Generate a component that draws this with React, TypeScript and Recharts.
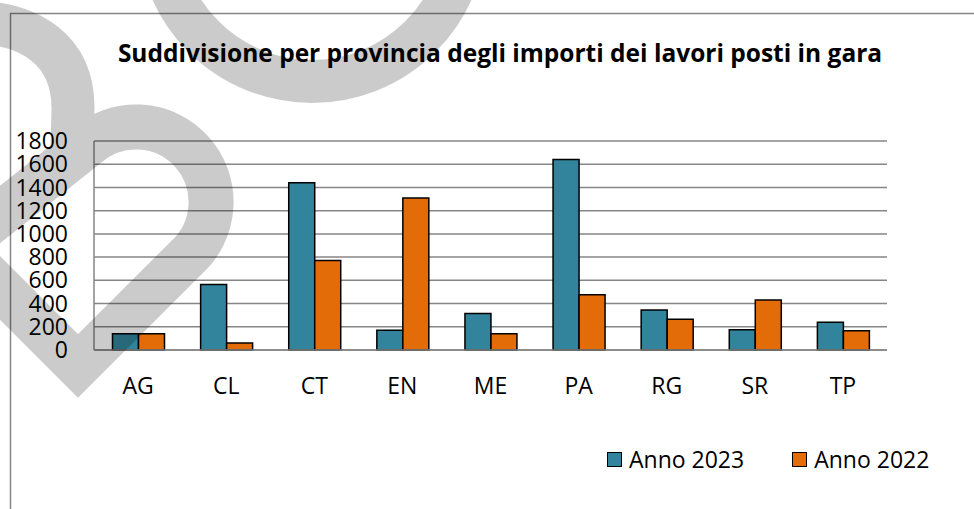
import React from 'react';
import { BarChart, Bar, XAxis, YAxis, CartesianGrid } from 'recharts';

const categories = ['AG', 'CL', 'CT', 'EN', 'ME', 'PA', 'RG', 'SR', 'TP'];
const anno2023 = [140, 565, 1440, 170, 315, 1640, 345, 175, 240];
const anno2022 = [140, 60, 770, 1310, 140, 475, 265, 430, 165];
const yTicks = [0, 200, 400, 600, 800, 1000, 1200, 1400, 1600, 1800];
const title = 'Suddivisione per provincia degli importi dei lavori posti in gara';

const series = [
  { key: 'a2023', name: 'Anno 2023', color: '#31849B', values: anno2023 },
  { key: 'a2022', name: 'Anno 2022', color: '#E36C09', values: anno2022 },
];

const data = categories.map((c, i) => {
  const row: Record<string, string | number> = { cat: c };
  series.forEach((s) => {
    row[s.key] = s.values[i];
  });
  return row;
});

const FONT = "'Open Sans', 'Noto Sans', sans-serif";
const GRID = '#868686';

export default function App() {
  return (
    <div style={{ position: 'absolute', left: 0, top: 0, width: 974, height: 509, background: '#fff', overflow: 'hidden' }}>
      <svg width={974} height={509} style={{ position: 'absolute', left: 0, top: 0 }}>
        <rect x={10.5} y={13.5} width={1000} height={600} fill="none" stroke={GRID} strokeWidth={1.5} />
        <text x={500} y={62} textAnchor="middle" fontFamily={FONT} fontWeight="bold" fontSize={24.5} fill="#000">
          {title}
        </text>
      </svg>
      <div style={{ position: 'absolute', left: 0, top: 0 }}>
        <BarChart
          width={974}
          height={509}
          data={data}
          margin={{ top: 141, right: 87, bottom: 129, left: 0 }}
          barCategoryGap="21%"
          barGap={0}
        >
          <CartesianGrid vertical={false} stroke={GRID} strokeWidth={1.5} />
          <XAxis
            dataKey="cat"
            height={30}
            axisLine={{ stroke: GRID, strokeWidth: 1.5 }}
            tickLine={false}
            tickSize={0}
            tickMargin={28}
            interval={0}
            tick={{ fill: '#000', fontSize: 23, fontFamily: FONT }}
          />
          <YAxis
            width={94}
            domain={[0, 1800]}
            ticks={yTicks}
            interval={0}
            axisLine={{ stroke: GRID, strokeWidth: 1.5 }}
            tickLine={false}
            tickSize={0}
            tickMargin={26}
            tick={{ fill: '#000', fontSize: 23, fontFamily: FONT }}
          />
          {series.map((s) => (
            <Bar
              key={s.key}
              dataKey={s.key}
              name={s.name}
              fill={s.color}
              stroke="#000"
              strokeWidth={1.5}
              isAnimationActive={false}
            />
          ))}
        </BarChart>
      </div>
      <div
        style={{
          position: 'absolute',
          left: 607,
          top: 445,
          height: 28,
          display: 'flex',
          alignItems: 'center',
          fontFamily: FONT,
          fontSize: 23,
          color: '#000',
          whiteSpace: 'nowrap',
        }}
      >
        {series.map((s, i) => (
          <div key={s.key} style={{ display: 'flex', alignItems: 'center', marginRight: i === 0 ? 48 : 0 }}>
            <span
              style={{
                display: 'inline-block',
                width: 13,
                height: 13,
                background: s.color,
                border: '1.5px solid #000',
                marginRight: 7,
              }}
            />
            <span style={{ lineHeight: 1 }}>{s.name}</span>
          </div>
        ))}
      </div>
      <svg width={974} height={509} style={{ position: 'absolute', left: 0, top: 0, pointerEvents: 'none' }}>
        <g opacity={0.2} fill="none" stroke="#000" strokeMiterlimit={10}>
          <circle cx={312} cy={-72} r={153.5} strokeWidth={43} />
          <path d="M -40.7 247 L 86 146 A 75 75 0 0 1 186 258 L 78 366 Z" strokeWidth={45} strokeLinejoin="miter" />
          <path d="M -30 22 C 30 22, 74 50, 73 110 L 72 150" strokeWidth={43} />
        </g>
      </svg>
    </div>
  );
}
